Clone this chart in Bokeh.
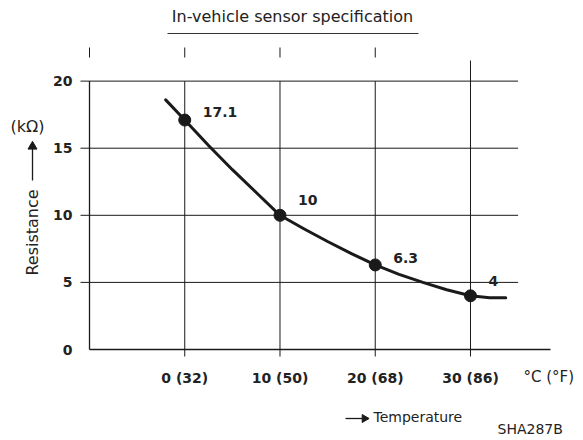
from bokeh.plotting import figure
from bokeh.models import Range1d
from bokeh.core.properties import value
from bokeh.embed import file_html
from bokeh.resources import INLINE
import math

# ---- data ----
temps_c = [0, 10, 20, 30]
temps_f = [32, 50, 68, 86]
resistance = [17.1, 10, 6.3, 4]
res_labels = ["17.1", "10", "6.3", "4"]
curve_t = [-2, 0, 2.5, 5, 7.5, 10, 12.5, 15, 17.5, 20, 22.5, 25, 27.5, 30, 32, 33.7]
curve_r = [18.6, 17.1, 15.2, 13.4, 11.7, 10, 9.0, 8.05, 7.15, 6.3, 5.6, 5.0, 4.45, 4.0, 3.85, 3.85]
y_ticks = [0, 5, 10, 15, 20]
y_tick_labels = ["0", "5", "10", "15", "20"]
grid_y = [5, 10, 15, 20]
top_ticks = [-10, 0, 10, 20]
x_tick_labels = [f"{c} ({f})" for c, f in zip(temps_c, temps_f)]

# ---- layout: page pixel <-> data mapping ----
W, H = 580, 438
AX_L, AX_B = 89, 349            # page px of x=-10 and y=0
SX = 461 / 48.4                 # px per degC
SY = 292 / 21.76                # px per kOhm
XMIN, XAXIS_END = -10, 38.4


def dx(px):
    return XMIN + (px - AX_L) / SX


def dy(py):
    return (AX_B - py) / SY


INK = "#1a1a1a"
TXT = "#222222"
FONT = "DejaVu Sans"

p = figure(width=W, height=H, x_range=Range1d(dx(0), dx(W)), y_range=Range1d(dy(H), dy(0)),
           output_backend="svg", toolbar_location=None,
           x_axis_location=None, y_axis_location=None,
           min_border=0, min_border_left=0, min_border_right=0,
           min_border_top=0, min_border_bottom=0)
p.outline_line_color = None
p.background_fill_color = "white"
p.border_fill_color = "white"
p.xgrid.visible = False
p.ygrid.visible = False


def txt(x, y, s, size="14px", bold=False, align="left", angle=0.0, **kw):
    p.text(x=x, y=y, text=s, text_font=value(FONT), text_font_size=size,
           text_font_style="bold" if bold else "normal", text_color=TXT,
           text_align=align, text_baseline="middle", angle=angle, **kw)


# ---- axes (drawn) ----
p.segment(x0=[XMIN], y0=[0], x1=[XAXIS_END], y1=[0], line_color=INK, line_width=1.3)
p.segment(x0=temps_c, y0=[0] * 4, x1=temps_c, y1=[dy(AX_B + 7)] * 4,
          line_color=INK, line_width=1)
txt(temps_c, [0] * 4, x_tick_labels, bold=True, align="center", y_offset=28)

p.segment(x0=[XMIN], y0=[0], x1=[XMIN], y1=[20], line_color=INK, line_width=1.3)
p.segment(x0=[dx(AX_L - 9)] * len(grid_y), y0=grid_y, x1=[XMIN] * len(grid_y), y1=grid_y,
          line_color=INK, line_width=1)
txt([XMIN] * len(y_ticks), y_ticks, y_tick_labels, bold=True, align="right", x_offset=-17)

# top tick marks
p.segment(x0=top_ticks, y0=[dy(57)] * 4, x1=top_ticks, y1=[dy(47)] * 4,
          line_color=INK, line_width=1)

# grid
p.segment(x0=[XMIN] * len(grid_y), y0=grid_y, x1=[35] * len(grid_y), y1=grid_y,
          line_color=INK, line_width=1)
p.segment(x0=temps_c, y0=[0] * 4, x1=temps_c, y1=[20, 20, 20, dy(60)],
          line_color=INK, line_width=1)

# ---- curve + points ----
p.line(curve_t, curve_r, line_color=INK, line_width=3, line_join="round", line_cap="round")
p.scatter(temps_c, resistance, size=12, color=INK)
txt(temps_c, resistance, res_labels, bold=True, x_offset=18, y_offset=[-8, -15, -7, -15])

# ---- titles / axis names ----
txt([dx(292)], [dy(16)], ["In-vehicle sensor specification"], size="16px", align="center")
p.segment(x0=[dx(167)], y0=[dy(33)], x1=[dx(418)], y1=[dy(33)], line_color="#333", line_width=1)

txt([dx(27)], [dy(126)], ["(kΩ)"], size="16px", align="center")
p.segment(x0=[dx(32)], y0=[dy(180)], x1=[dx(32)], y1=[dy(148)], line_color=INK, line_width=1.3)
p.scatter([dx(32)], [dy(146)], marker="triangle", size=9, color=INK)
txt([dx(32)], [dy(232)], ["Resistance"], size="16px", align="center", angle=math.pi / 2)

txt([dx(523)], [dy(376)], ["°C (°F)"], size="15px")

p.segment(x0=[dx(345)], y0=[dy(418)], x1=[dx(362)], y1=[dy(418)], line_color=INK, line_width=1.3)
p.scatter([dx(364)], [dy(418)], marker="triangle", size=8, angle=-math.pi / 2, color=INK)
txt([dx(373)], [dy(416)], ["Temperature"], size="14px")
txt([dx(497)], [dy(428)], ["SHA287B"], size="14px")

open("out.html", "w").write(file_html(p, INLINE))
